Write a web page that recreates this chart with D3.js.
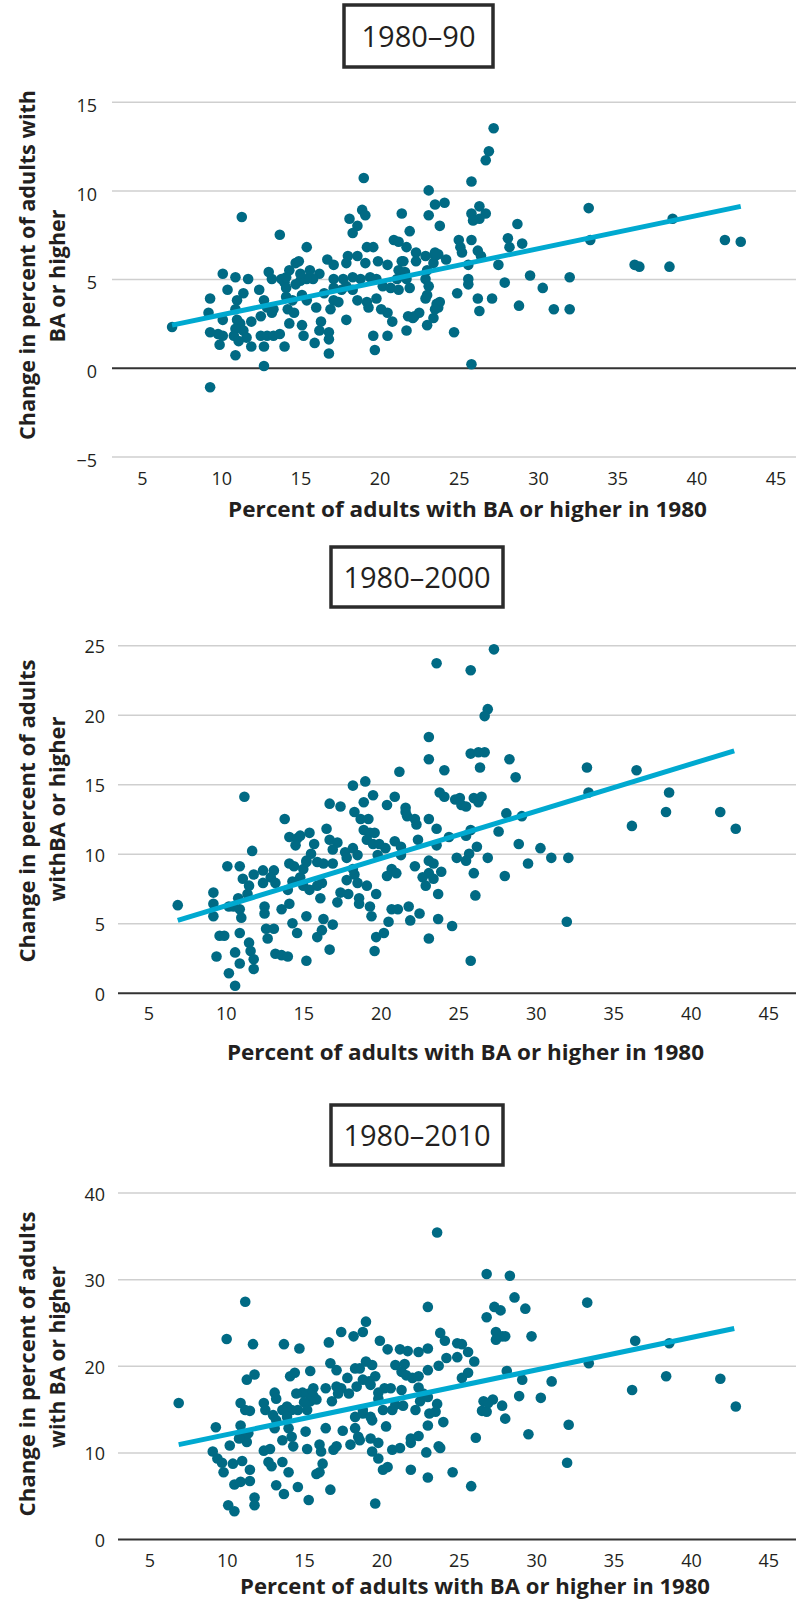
<!DOCTYPE html>
<html>
<head>
<meta charset="utf-8">
<script src="https://cdn.jsdelivr.net/npm/d3@7"></script>
<style>
  body { margin: 0; background: #fff; }
  text { font-family: "Open Sans", sans-serif; fill: #231f20; }
</style>
</head>
<body>
<div id="chart"></div>
<script>
// ---- data ----
const xTicks = [5, 10, 15, 20, 25, 30, 35, 40, 45];
const xTitle = "Percent of adults with BA or higher in 1980";

const title1990 = "1980\u201390";
const yTicks1990 = [-5, 0, 5, 10, 15];
const yTitle1990 = ["Change in percent of adults with", "BA or higher"];
const trend1990 = [[6.9, 2.4], [42.8, 9.1]];
const points1990 = [
  [6.9,2.3],[19.0,10.7],[11.3,8.5],[13.7,7.5],[23.1,10.0],[23.5,9.2],[24.1,9.3],[23.1,8.6],[23.8,8.0],[21.4,8.7],
  [18.1,8.4],[18.9,8.9],[19.1,8.6],[18.6,8.0],[18.3,7.6],[21.9,7.7],[15.4,6.8],[20.9,7.2],[21.2,7.1],[21.7,6.8],
  [19.2,6.8],[19.6,6.8],[22.3,6.5],[22.9,6.3],[23.7,6.4],[24.2,6.1],[18.0,6.3],[17.9,5.9],[18.6,6.3],[19.1,5.9],
  [19.9,6.0],[20.5,5.8],[16.7,6.1],[17.1,5.8],[14.7,5.9],[14.9,6.0],[14.3,5.5],[15.6,5.5],[16.2,5.3],[15.8,5.0],
  [15.4,5.0],[15.0,4.9],[13.0,5.4],[13.2,5.0],[13.8,5.0],[14.0,4.8],[14.1,4.5],[14.7,4.7],[10.1,5.3],[10.9,5.1],
  [11.7,5.0],[10.4,4.4],[11.4,4.2],[11.0,3.8],[12.4,4.4],[12.7,3.8],[12.9,3.4],[9.3,3.9],[9.2,3.1],[10.1,2.7],
  [10.9,3.3],[11.0,2.7],[11.2,2.5],[11.9,2.6],[11.4,2.1],[10.9,2.2],[10.8,1.8],[10.1,1.8],[9.8,1.9],[9.3,2.0],
  [9.9,1.3],[10.9,0.7],[11.6,1.7],[11.9,1.2],[11.1,1.5],[12.5,1.8],[12.9,1.8],[13.3,1.8],[13.7,1.9],[14.0,1.2],
  [12.7,1.2],[12.7,0.1],[13.2,3.1],[13.3,3.3],[12.5,2.9],[14.2,3.3],[14.6,3.1],[14.3,2.5],[14.1,4.0],[14.5,3.8],
  [15.1,2.4],[15.2,1.8],[15.9,1.4],[16.2,2.1],[16.3,2.6],[16.8,2.0],[16.8,1.6],[16.8,0.8],[17.9,2.7],[19.6,1.8],
  [20.5,1.8],[19.7,1.0],[21.7,2.1],[21.8,2.9],[22.2,2.9],[22.5,3.1],[23.0,2.4],[23.4,2.8],[23.7,3.4],[23.8,3.7],
  [20.8,2.6],[20.5,3.1],[20.1,3.3],[17.1,3.8],[17.4,3.7],[16.9,3.3],[16.0,3.4],[15.4,3.8],[15.1,4.1],[16.5,4.2],
  [17.1,4.5],[17.6,4.4],[17.9,4.6],[18.3,4.4],[18.6,3.8],[19.2,3.7],[19.3,3.4],[19.8,3.9],[20.2,4.6],[20.7,4.5],
  [21.2,4.4],[21.9,4.5],[21.7,5.0],[21.1,5.0],[18.8,5.0],[19.4,5.1],[19.8,5.0],[18.3,5.1],[17.7,5.0],[17.1,5.0],
  [23.0,5.5],[22.9,5.0],[23.1,4.6],[23.0,4.1],[22.9,3.9],[23.6,3.6],[21.2,5.5],[21.4,6.0],[21.6,5.4],[23.4,5.9],
  [23.5,6.3],[14.1,5.1],[15.0,5.3],[9.3,-1.1],
  [27.2,13.5],[26.9,12.2],[26.7,11.7],[25.8,10.5],[25.8,8.7],[26.3,9.1],[26.7,8.7],[26.3,8.4],[25.9,8.3],[33.2,9.0],
  [38.5,8.4],[33.3,7.2],[41.8,7.2],[42.8,7.1],[36.1,5.8],[36.4,5.7],[38.3,5.7],[25.0,7.2],[25.1,6.8],[25.2,6.5],
  [25.8,7.2],[26.2,6.6],[26.4,6.3],[28.1,7.3],[28.2,6.8],[28.7,8.1],[29.0,7.0],[27.5,5.8],[27.9,4.8],[29.5,5.2],
  [30.3,4.5],[28.8,3.5],[31.0,3.3],[32.0,3.3],[32.0,5.1],[27.1,3.9],[26.2,3.9],[26.3,3.2],[25.6,5.0],[25.6,4.7],
  [25.6,5.8],[24.9,4.2],[24.7,2.0],[25.8,0.2],[23.5,6.5],[23.5,3.3],[22.1,2.8],[22.3,6.0],[21.5,6.0]
];

const title2000 = "1980\u20132000";
const yTicks2000 = [0, 5, 10, 15, 20, 25];
const yTitle2000 = ["Change in percent of adults", "withBA or higher"];
const trend2000 = [[6.9, 5.2], [42.8, 17.4]];
const points2000 = [
  [6.9,6.3],[23.6,23.7],[23.1,18.4],[23.1,16.8],[24.1,16.0],[21.2,15.9],[23.8,14.4],[24.1,14.1],[11.2,14.1],[18.2,14.9],
  [19.0,15.2],[19.5,14.2],[16.7,13.6],[17.4,13.4],[18.3,13.0],[18.7,12.5],[19.2,12.5],[18.9,13.7],[20.4,13.5],[20.9,14.1],
  [21.6,13.3],[21.7,12.7],[22.2,12.5],[22.3,12.1],[21.6,13.0],[23.1,12.5],[23.6,11.8],[13.8,12.5],[14.1,11.2],[14.6,11.1],
  [14.8,11.3],[14.5,10.6],[15.4,11.5],[15.7,10.7],[15.5,10.0],[15.2,9.5],[16.5,11.8],[16.7,11.0],[17.2,10.8],[16.9,10.3],
  [17.7,10.1],[17.8,9.7],[18.2,10.4],[18.5,9.9],[18.9,11.7],[19.3,11.5],[19.6,11.5],[19.1,11.0],[19.5,10.7],[19.9,10.7],
  [20.3,10.4],[19.8,9.9],[11.7,10.2],[10.1,9.1],[10.9,9.1],[11.1,8.2],[11.5,7.7],[11.4,7.1],[10.8,6.8],[11.8,8.5],
  [12.4,8.8],[12.4,7.9],[13.1,8.8],[12.9,8.3],[13.2,7.9],[14.1,9.3],[14.4,9.1],[14.8,8.3],[14.3,8.0],[14.0,7.4],
  [14.1,6.4],[13.6,6.0],[15.0,7.7],[15.4,7.4],[15.9,7.7],[16.2,7.9],[16.1,6.8],[15.0,8.9],[16.9,9.3],[16.3,9.3],
  [15.9,9.4],[15.2,9.4],[17.2,6.5],[17.4,7.2],[17.9,7.1],[17.8,8.1],[18.3,8.5],[18.5,7.9],[18.2,8.9],[19.1,7.7],
  [18.6,6.8],[18.6,6.4],[19.3,6.2],[19.4,5.5],[19.7,7.1],[20.4,8.4],[20.7,8.9],[21.0,8.6],[20.9,10.9],[21.3,10.5],
  [21.3,9.9],[22.2,9.1],[20.7,6.0],[21.1,6.0],[21.8,6.2],[21.9,5.2],[22.5,5.7],[20.5,5.1],[22.4,11.0],[23.1,9.5],
  [23.4,9.3],[23.1,8.6],[22.7,8.3],[23.4,8.2],[22.9,7.7],[23.9,8.7],[23.7,7.1],[23.6,10.6],[24.4,11.2],[23.7,5.3],
  [23.1,3.9],[24.6,4.8],[19.7,4.0],[20.2,4.3],[19.6,3.0],[15.9,4.0],[16.2,4.5],[16.3,5.3],[16.9,4.9],[16.7,3.1],
  [15.2,5.5],[14.3,5.0],[14.6,4.3],[15.2,2.3],[12.5,6.2],[12.5,5.7],[12.6,4.6],[13.1,4.6],[12.7,3.9],[13.2,2.8],
  [13.6,2.7],[14.0,2.6],[9.2,7.2],[9.2,6.4],[9.2,5.5],[10.2,6.2],[10.5,6.2],[9.6,4.1],[9.9,4.1],[10.9,6.0],
  [11.0,5.4],[10.9,4.3],[11.5,3.6],[11.6,3.0],[11.8,2.4],[11.8,1.7],[9.4,2.6],[10.6,2.9],[10.9,2.1],[10.2,1.4],
  [10.6,0.5],
  [27.3,24.7],[25.8,23.2],[26.9,20.4],[26.7,19.9],[25.8,17.2],[26.3,17.3],[26.7,17.3],[26.4,16.2],[28.3,16.8],[28.7,15.5],
  [33.3,16.2],[33.4,14.4],[36.5,16.0],[38.6,14.4],[38.4,13.0],[36.2,12.0],[41.9,13.0],[42.9,11.8],[24.8,13.9],[25.1,14.0],
  [25.2,13.5],[25.5,13.4],[26.0,14.0],[26.3,13.7],[26.5,14.1],[28.1,12.9],[29.1,12.7],[27.6,11.6],[25.8,11.7],[25.5,11.3],
  [26.2,10.5],[25.7,10.0],[25.5,9.5],[24.9,9.7],[26.9,9.7],[28.9,10.7],[30.3,10.4],[31.0,9.7],[32.1,9.7],[29.5,9.3],
  [28.0,8.4],[26.0,8.6],[26.1,7.0],[25.8,2.3],[32.0,5.1]
];

const title2010 = "1980\u20132010";
const yTicks2010 = [0, 10, 20, 30, 40];
const yTitle2010 = ["Change in percent of adults", "with BA or higher"];
const trend2010 = [[6.9, 10.9], [42.8, 24.3]];
const points2010 = [
  [6.9,15.7],[23.6,35.4],[11.2,27.4],[23.0,26.8],[10.0,23.1],[11.7,22.5],[13.7,22.5],[14.7,22.0],[16.6,22.7],[17.4,23.9],
  [18.2,23.4],[18.8,23.9],[19.0,25.1],[19.9,22.9],[20.4,21.9],[21.2,21.9],[21.7,21.7],[22.4,21.6],[23.0,22.0],[23.8,23.8],
  [24.1,22.9],[11.3,18.4],[11.8,19.0],[14.1,18.8],[14.4,19.2],[15.4,19.4],[16.7,20.3],[17.1,19.5],[17.8,18.6],[18.3,19.7],
  [18.6,19.7],[19.0,20.5],[19.4,20.1],[19.6,18.8],[19.2,18.2],[20.9,20.1],[21.5,20.2],[21.3,19.3],[21.6,18.9],[22.0,18.6],
  [22.4,18.8],[23.0,19.5],[23.7,20.0],[24.2,20.9],[22.4,17.5],[21.3,17.2],[20.6,17.4],[20.2,17.4],[19.8,16.9],[19.8,16.2],
  [19.3,17.8],[18.8,18.4],[18.4,17.6],[17.9,16.8],[17.4,17.4],[17.1,17.6],[17.2,16.8],[16.4,17.4],[16.8,15.9],[15.6,17.4],
  [15.3,16.8],[14.9,16.9],[14.5,16.8],[15.6,16.5],[15.8,16.1],[15.4,15.9],[15.0,15.8],[15.2,14.9],[14.6,14.9],[14.2,14.9],
  [13.9,15.3],[13.6,14.9],[13.1,16.9],[13.2,16.2],[12.4,15.7],[12.5,14.9],[13.0,14.3],[13.2,13.7],[13.9,14.1],[14.0,12.8],
  [14.2,11.8],[13.6,11.4],[13.1,12.8],[10.9,15.7],[11.2,14.9],[11.5,14.8],[10.9,13.1],[11.1,11.8],[11.3,11.2],[11.4,12.2],
  [10.8,11.6],[9.3,12.9],[10.2,10.8],[9.1,10.1],[9.4,9.3],[9.7,8.8],[9.8,7.7],[10.4,8.7],[11.0,9.0],[11.5,8.0],
  [11.5,6.7],[10.5,6.3],[10.9,6.6],[10.1,3.9],[10.5,3.2],[11.8,4.8],[11.8,3.9],[12.4,10.2],[12.8,10.4],[12.7,8.9],
  [12.9,8.4],[13.6,8.9],[14.0,7.7],[13.2,6.2],[13.7,5.2],[14.6,6.0],[15.3,4.5],[15.8,7.5],[16.2,8.7],[16.0,7.7],
  [14.3,10.7],[15.2,10.4],[15.1,12.4],[16.4,12.8],[16.0,10.9],[16.1,10.1],[16.9,10.3],[17.1,10.7],[17.5,12.5],[18.0,10.9],
  [16.7,5.7],[18.3,12.8],[18.5,11.8],[18.6,11.4],[19.3,11.6],[19.8,11.1],[19.4,10.1],[19.8,9.3],[20.3,13.0],[20.1,8.0],
  [20.4,8.3],[19.6,4.1],[18.3,14.1],[18.8,14.5],[19.3,14.1],[19.4,13.7],[18.8,14.9],[20.1,14.9],[20.7,14.9],[20.9,15.5],
  [21.4,15.4],[22.2,14.9],[22.5,15.9],[22.7,16.8],[23.0,16.4],[20.7,10.3],[21.2,10.5],[21.9,11.1],[21.9,11.6],[22.4,11.9],
  [22.9,10.0],[23.0,7.1],[21.9,8.0],[23.0,13.1],[23.6,15.6],[23.5,14.7],[24.0,13.5],[23.7,10.7],[23.8,10.5],
  [26.8,30.6],[28.3,30.4],[28.6,27.9],[29.3,26.6],[33.3,27.3],[26.8,25.6],[27.3,26.8],[27.7,26.4],[27.4,23.9],[27.8,23.4],
  [28.0,23.4],[27.4,23.0],[29.7,23.4],[24.9,22.6],[25.2,22.5],[25.6,21.6],[24.9,21.0],[26.0,20.5],[25.6,19.2],[25.2,18.6],
  [28.1,19.4],[29.1,18.4],[31.0,18.2],[33.4,20.3],[36.4,22.9],[38.6,22.6],[38.4,18.8],[36.2,17.2],[41.9,18.5],[42.9,15.3],
  [28.9,16.5],[30.3,16.3],[27.8,15.4],[27.2,16.1],[26.6,15.9],[26.5,14.8],[26.8,14.7],[26.9,15.7],[28.0,13.9],[29.5,12.1],
  [32.1,13.2],[32.0,8.8],[26.1,11.7],[23.1,14.5],[24.6,7.7],[25.8,6.1]
];

// ---- layout of the three stacked panels ----
const W = 796, H = 1606;
const dotColor = "#006a84";
const lineColor = "#00a9d0";

const panels = [
  {
    title: title1990, yTicks: yTicks1990, yTitle: yTitle1990, points: points1990, trend: trend1990,
    box: [344, 5, 149, 62],
    xRange: [142, 775.6], yDomain: [-5, 15], yRange: [456.4, 101.7],
    gridLeft: 112, labelRight: 97, labelDy: "0.55em", xLabelY: 485,
    xTitlePos: [228, 517, 479],
    yTitlePos: [[35, 265, 350], [65, 276, 133]]
  },
  {
    title: title2000, yTicks: yTicks2000, yTitle: yTitle2000, points: points2000, trend: trend2000,
    box: [331, 547, 172, 60],
    xRange: [148.3, 768.3], yDomain: [0, 25], yRange: [992.7, 645.2],
    gridLeft: 118, labelRight: 105, labelDy: "0.42em", xLabelY: 1020,
    xTitlePos: [227, 1060, 477],
    yTitlePos: [[35, 811, 303], [65, 809, 185]]
  },
  {
    title: title2010, yTicks: yTicks2010, yTitle: yTitle2010, points: points2010, trend: trend2010,
    box: [331, 1105, 172, 60],
    xRange: [149.3, 768.3], yDomain: [0, 40], yRange: [1539, 1192.6],
    gridLeft: 118, labelRight: 105, labelDy: "0.42em", xLabelY: 1567,
    xTitlePos: [240, 1594, 470],
    yTitlePos: [[35, 1364, 305], [65, 1357, 182]]
  }
];

const svg = d3.select("#chart")
  .append("svg")
  .attr("width", W)
  .attr("height", H);

svg.append("rect").attr("width", W).attr("height", H).attr("fill", "#fff");

panels.forEach(function (p) {
  const x = d3.scaleLinear().domain([5, 45]).range(p.xRange);
  const y = d3.scaleLinear().domain(p.yDomain).range(p.yRange);
  const g = svg.append("g");

  // boxed title
  g.append("rect")
    .attr("x", p.box[0]).attr("y", p.box[1])
    .attr("width", p.box[2]).attr("height", p.box[3])
    .attr("fill", "none")
    .attr("stroke", "#2b2b2b")
    .attr("stroke-width", 3.5);
  g.append("text")
    .attr("x", p.box[0] + p.box[2] / 2)
    .attr("y", p.box[1] + p.box[3] / 2 + 10.5)
    .attr("text-anchor", "middle")
    .style("font-size", "29px")
    .style("font-weight", 500)
    .text(p.title);

  // y axis: labels + full-width gridlines
  const yAxis = g.append("g")
    .attr("transform", "translate(" + p.gridLeft + ",0)")
    .call(d3.axisLeft(y).tickValues(p.yTicks).tickSize(-(W - p.gridLeft)));
  yAxis.select(".domain").remove();
  yAxis.selectAll(".tick line")
    .attr("stroke", "#cfcfcf")
    .attr("stroke-width", 1.5);
  yAxis.selectAll(".tick").filter(function (d) { return d === 0; }).select("line")
    .attr("stroke", "#333")
    .attr("stroke-width", 2);
  yAxis.selectAll(".tick text")
    .attr("x", p.labelRight - p.gridLeft)
    .attr("dy", p.labelDy)
    .style("font-size", "18px");

  // x axis labels only
  const xAxis = g.append("g")
    .attr("transform", "translate(0," + p.xLabelY + ")")
    .call(d3.axisBottom(x).tickValues(xTicks).tickSize(0));
  xAxis.select(".domain").remove();
  xAxis.selectAll(".tick text")
    .attr("y", 0)
    .attr("dy", 0)
    .style("font-size", "18px");

  // points
  g.append("g").selectAll("circle")
    .data(p.points)
    .join("circle")
    .attr("cx", function (d) { return x(d[0]); })
    .attr("cy", function (d) { return y(d[1]); })
    .attr("r", 5.3)
    .attr("fill", dotColor);

  // trend line
  g.append("path")
    .datum(p.trend)
    .attr("d", d3.line().x(function (d) { return x(d[0]); }).y(function (d) { return y(d[1]); }))
    .attr("fill", "none")
    .attr("stroke", lineColor)
    .attr("stroke-width", 5);

  // axis titles
  g.append("text")
    .attr("x", p.xTitlePos[0])
    .attr("y", p.xTitlePos[1])
    .attr("textLength", p.xTitlePos[2])
    .attr("lengthAdjust", "spacingAndGlyphs")
    .style("font-size", "21px")
    .style("font-weight", 700)
    .text(xTitle);

  p.yTitle.forEach(function (line, i) {
    const pos = p.yTitlePos[i];
    g.append("text")
      .attr("transform", "translate(" + pos[0] + "," + pos[1] + ") rotate(-90)")
      .attr("text-anchor", "middle")
      .attr("textLength", pos[2])
      .attr("lengthAdjust", "spacingAndGlyphs")
      .style("font-size", "22px")
      .style("font-weight", 700)
      .text(line);
  });
});
</script>
</body>
</html>
